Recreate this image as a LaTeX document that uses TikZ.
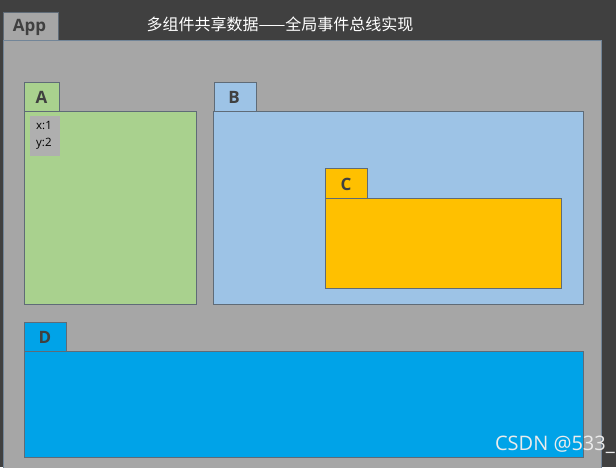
\documentclass[tikz,border=0pt]{standalone}
\usepackage{fontspec}
\setmainfont{Open Sans}
\newfontfamily\cjk{Noto Sans CJK SC}
\usetikzlibrary{positioning}
\definecolor{bgdark}{HTML}{404040}
\definecolor{appgray}{HTML}{A6A6A6}
\definecolor{cmpA}{HTML}{A9D18E}
\definecolor{cmpB}{HTML}{9DC3E6}
\definecolor{cmpC}{HTML}{FFC000}
\definecolor{cmpD}{HTML}{00A3E8}
\definecolor{edge}{HTML}{5F6B77}
\newcommand{\tabfont}{\fontsize{17}{17}\selectfont\bfseries}

\begin{document}
\begin{tikzpicture}[x=1pt, y=-1pt,
	box/.style={draw=edge, line width=0.8pt},
	tablabel/.style={text=bgdark, font=\tabfont, inner sep=0pt}]
	% The frame:
	\fill[bgdark] (0,0) rectangle (616,467);
	\useasboundingbox (0,0) rectangle (616,467);
	% App:
	\draw[box, fill=appgray] (3,12) rectangle (58,40);
	\draw[box, draw=edge!70!cmpB, fill=appgray] (3,40) rectangle (601,470);
	\node[tablabel] (app) at (29.5,27) {App};
	\node[text=white, inner sep=0pt, font=\cjk\fontsize{16}{16}\selectfont] (title) at (280,24)
		{多组件共享数据——全局事件总线实现};
	% Components:
	\draw[box, fill=cmpA]
		(24,82) rectangle (59,111)
		(24,111) rectangle (196,304);
	\node[tablabel] (a) at (41.5,97) {A};
	\fill[appgray!90!white] (30,116) rectangle (60,156);
	\node[inner sep=0pt, align=left, font=\fontsize{11.5}{17}\selectfont, text=black, anchor=north west]
		(xy) at (36,121) {x:1\\y:2};
	\draw[box, fill=cmpB]
		(214,82) rectangle (256,111)
		(213,111) rectangle (583,304);
	\node[tablabel] (b) at (234,97) {B};
	\draw[box, fill=cmpC]
		(325,168) rectangle (367,198)
		(325,198) rectangle (561,288);
	\node[tablabel] (c) at (346,184) {C};
	\draw[box, fill=cmpD]
		(24,322) rectangle (66,351)
		(24,351) rectangle (583,457);
	\node[tablabel] (d) at (45,337) {D};
	% Watermark:
	\node[text=white!85!gray, inner sep=0pt, anchor=east, font=\fontsize{20}{20}\selectfont]
		(mark) at (615,445) {CSDN @533\_};
\end{tikzpicture}
\end{document}
